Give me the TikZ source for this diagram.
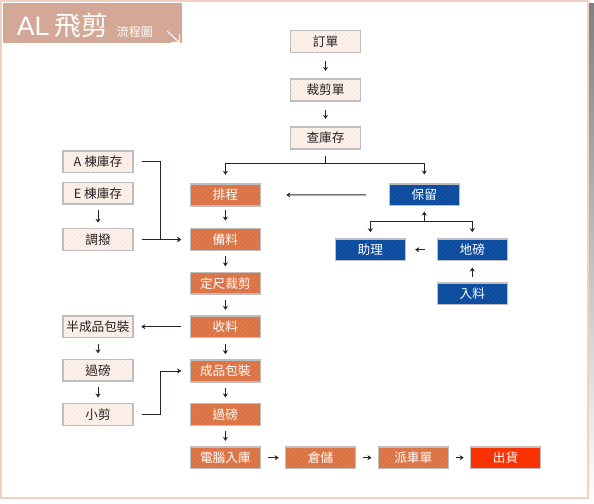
\documentclass[tikz,border=0pt]{standalone}
\usepackage{fontspec}
\setmainfont{Noto Sans CJK TC}
\newfontfamily\latinfont{Liberation Sans}
\usepackage{tikz}
\usetikzlibrary{arrows.meta,patterns.meta}
\definecolor{rim}{HTML}{F2D0C2}
\definecolor{shade}{HTML}{E6E6E6}
\definecolor{head}{HTML}{D4A896}
\definecolor{edge}{HTML}{BEBEBE}
\definecolor{ink}{HTML}{2A2222}
\definecolor{paleF}{HTML}{FDF3EE}
\definecolor{paleL}{HTML}{F8E2D7}
\definecolor{workF}{HTML}{DA7244}
\definecolor{workL}{HTML}{E28254}
\definecolor{holdF}{HTML}{0A4B9E}
\definecolor{holdL}{HTML}{1C58A8}
\definecolor{shipF}{HTML}{FF2E00}
\definecolor{shipL}{HTML}{EC400C}

\begin{document}
\begin{tikzpicture}[
  x=0.75pt, y=-0.75pt,
  box/.style={draw=edge, line width=1pt, minimum width=52.3pt, minimum height=16.3pt,
    inner sep=0pt, font=\fontsize{9.5}{11}\selectfont},
  pale/.style={box, preaction={fill=paleF}, pattern={Lines[angle=45,distance=2.4pt,line width=0.55pt]}, pattern color=paleL, text=ink},
  work/.style={box, preaction={fill=workF}, pattern={Lines[angle=45,distance=2.4pt,line width=0.55pt]}, pattern color=workL, text=white},
  hold/.style={box, preaction={fill=holdF}, pattern={Lines[angle=45,distance=2.4pt,line width=0.55pt]}, pattern color=holdL, text=white},
  ship/.style={box, preaction={fill=shipF}, pattern={Lines[angle=45,distance=2.4pt,line width=0.55pt]}, pattern color=shipL, text=white},
  link/.style={draw=ink, line width=0.75pt},
  arr/.style={link, -{Stealth[length=3pt,width=3.8pt]}, shorten <=4pt, shorten >=4pt}
]
\useasboundingbox (0,0) rectangle (594,504);
\fill[shade] (3.5,3.5) rectangle (594,504);
\filldraw[fill=white, draw=rim, line width=1.5pt] (1,1) rectangle (587.7,498.3);

\fill[head] (3,3) rectangle (181.7,43.3);
\node[anchor=base west, inner sep=0pt, text=white, font=\fontsize{20}{20}\selectfont] (ttl) at (16.5,35) {{\latinfont AL}\hspace{4pt}飛剪};
\node[anchor=base west, inner sep=0pt, text=white, font=\fontsize{9}{9}\selectfont] (sub) at (116.5,36) {流程圖};
\draw[white, line width=0.75pt] (167,31) -- (179.5,42.5);
\draw[white, line width=0.75pt] (170.5,42.5) -- (179.5,42.5) -- (179.5,33.5);

\node[pale] (ord)   at (325.5,41.5) {訂單};
\node[pale] (cut)   at (325.5,90)   {裁剪單};
\node[pale] (stock) at (325.5,138)  {查庫存};

\node[pale] (bldA) at (98,161.7)  {A 棟庫存};
\node[pale] (bldE) at (98,193.2)  {E 棟庫存};
\node[pale] (move) at (98,239.5)  {調撥};
\node[pale] (semi) at (98,326.7)  {半成品包裝};
\node[pale] (wgtL) at (98,370.2)  {過磅};
\node[pale] (trim) at (98,414.3)  {小剪};

\node[work] (plan)  at (225.4,195)   {排程};
\node[work] (prep)  at (225.4,239.5) {備料};
\node[work] (size)  at (225.4,283.2) {定尺裁剪};
\node[work] (recv)  at (225.4,326.7) {收料};
\node[work] (pack)  at (225.4,371)   {成品包裝};
\node[work] (wgtR)  at (225.4,414.3) {過磅};
\node[work] (pc)    at (225.4,457.7) {電腦入庫};
\node[work] (store) at (320.5,457.7) {倉儲};
\node[work] (disp)  at (413.3,457.7) {派車單};
\node[ship] (out)   at (505.5,457.7) {出貨};

\node[hold] (keep)  at (424.3,194.7) {保留};
\node[hold] (help)  at (370.3,249.7) {助理};
\node[hold] (scale) at (472.3,249.7) {地磅};
\node[hold] (feed)  at (472.3,293.7) {入料};

\coordinate (fork) at (325.5,163.3);
\coordinate (knot) at (424.3,221.7);
\coordinate (bus)  at (160,0);

\draw[arr, shorten <=6pt, shorten >=5.7pt] (ord) -- (cut);
\draw[arr, shorten <=6pt, shorten >=5.7pt] (cut) -- (stock);
\draw[link, shorten <=4.5pt] (stock) -- (fork);
\draw[arr, shorten <=0pt, shorten >=6.5pt] (fork) -| (plan);
\draw[arr, shorten <=0pt, shorten >=6.5pt] (fork) -| (keep);
\draw[arr, shorten <=17pt, shorten >=19pt] (keep) -- (plan);

\draw[arr, shorten <=0pt, shorten >=4pt] (knot) -- (keep);
\draw[arr, shorten <=0pt, shorten >=4.5pt] (knot) -| (help);
\draw[arr, shorten <=0pt, shorten >=4.5pt] (knot) -| (scale);
\draw[arr, shorten <=8.5pt, shorten >=7pt] (scale) -- (help);
\draw[arr, shorten <=3.8pt, shorten >=4.7pt] (feed) -- (scale);

\draw[arr, shorten <=6.5pt, shorten >=6.5pt] (bldA) -| (bus |- prep) -- (prep);
\draw[arr] (bldE) -- (move);
\draw[arr, shorten <=6.5pt, shorten >=6.5pt] (move) -- (prep);

\draw[arr, shorten <=2.5pt, shorten >=5.5pt] (plan) -- (prep);
\draw[arr] (prep) -- (size);
\draw[arr] (size) -- (recv);
\draw[arr] (recv) -- (pack);
\draw[arr] (pack) -- (wgtR);
\draw[arr] (wgtR) -- (pc);

\draw[arr, shorten <=7pt, shorten >=5.8pt] (recv) -- (semi);
\draw[arr] (semi) -- (wgtL);
\draw[arr] (wgtL) -- (trim);
\draw[arr, shorten <=6.5pt, shorten >=6.5pt] (trim) -| (bus |- pack) -- (pack);

\draw[arr, shorten <=5.2pt, shorten >=4.7pt] (pc) -- (store);
\draw[arr, shorten <=5.2pt, shorten >=4.7pt] (store) -- (disp);
\draw[arr, shorten <=5.2pt, shorten >=4.7pt] (disp) -- (out);
\end{tikzpicture}
\end{document}
